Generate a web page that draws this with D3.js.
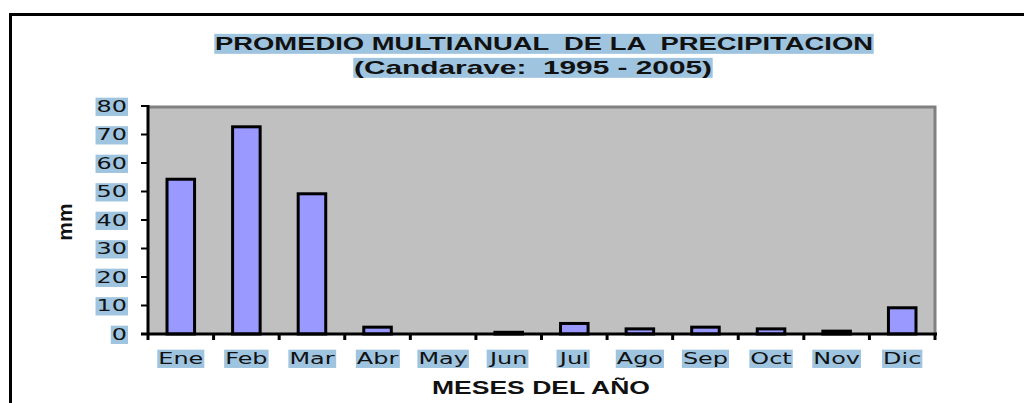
<!DOCTYPE html>
<meta charset="utf-8">
<script src="https://d3js.org/d3.v7.min.js"></script>
<style>
  body { margin: 0; background: #fff; }
</style>
<div id="chart"></div>
<script>
// data
const meses = ["Ene", "Feb", "Mar", "Abr", "May", "Jun", "Jul", "Ago", "Sep", "Oct", "Nov", "Dic"];
const precipitacion = [54.3, 72.7, 49.2, 2.4, 0, 0.6, 3.7, 1.8, 2.4, 1.8, 1.0, 9.2];
const yTicks = [0, 10, 20, 30, 40, 50, 60, 70, 80];

const width = 1024, height = 403;
const plot = {left: 148, right: 935, top: 106, bottom: 334};
const highlight = "#9fc4df";

const svg = d3.select("#chart").append("svg")
  .attr("width", width)
  .attr("height", height);

// outer frame (only top and left visible)
svg.append("path")
  .attr("d", "M1024,14.5 H10.5 V403")
  .attr("fill", "none")
  .attr("stroke", "#000")
  .attr("stroke-width", 3);

const x = d3.scaleBand().domain(meses).range([plot.left, plot.right]);
const y = d3.scaleLinear().domain([0, 80]).range([plot.bottom, plot.top]);

// text with a highlight box behind it, drawn at (px,py) and widened by sx
function labelWithBox(parent, txt, px, py, attrs, sx) {
  const g = parent.append("g")
    .attr("transform", `translate(${px},${py}) scale(${sx || 1},1)`);
  const t = g.append("text").text(txt);
  Object.entries(attrs).forEach(([k, v]) => t.attr(k, v));
  const b = t.node().getBBox();
  g.insert("rect", "text")
    .attr("x", b.x - 0.7).attr("y", b.y + 1)
    .attr("width", b.width + 1.4).attr("height", b.height - 1)
    .attr("fill", highlight);
  return t;
}

// plot background
svg.append("rect")
  .attr("x", plot.left).attr("y", plot.top)
  .attr("width", plot.right - plot.left).attr("height", plot.bottom - plot.top)
  .attr("fill", "#c0c0c0");
svg.append("path")
  .attr("d", `M${plot.left},${plot.top + 1} H${plot.right} V${plot.bottom}`)
  .attr("fill", "none")
  .attr("stroke", "#808080")
  .attr("stroke-width", 3);

// bars
const barW = x.bandwidth() * 0.42;
svg.append("g").selectAll("rect")
  .data(meses)
  .join("rect")
  .attr("x", d => x(d) + (x.bandwidth() - barW) / 2)
  .attr("y", (d, i) => y(precipitacion[i]))
  .attr("width", barW)
  .attr("height", (d, i) => y(0) - y(precipitacion[i]))
  .attr("fill", "#9999ff")
  .attr("stroke", "#000")
  .attr("stroke-width", 3)
  .attr("display", (d, i) => precipitacion[i] > 0 ? null : "none");

// y axis
const yAxis = svg.append("g");
yAxis.append("line")
  .attr("x1", plot.left).attr("x2", plot.left)
  .attr("y1", plot.top - 1).attr("y2", plot.bottom + 1)
  .attr("stroke", "#000").attr("stroke-width", 3);
yTicks.forEach(v => {
  yAxis.append("line")
    .attr("x1", plot.left - 7).attr("x2", plot.left)
    .attr("y1", y(v)).attr("y2", y(v))
    .attr("stroke", "#000").attr("stroke-width", 2);
  labelWithBox(yAxis, v, 127, y(v), {
    dy: "0.36em", "text-anchor": "end",
    "font-family": "DejaVu Sans", "font-size": 16.5, fill: "#111"
  }, 1.45);
});

// x axis
const xAxis = svg.append("g");
xAxis.append("line")
  .attr("x1", plot.left - 7).attr("x2", plot.right + 2)
  .attr("y1", plot.bottom).attr("y2", plot.bottom)
  .attr("stroke", "#000").attr("stroke-width", 3);
meses.concat(["end"]).forEach((m, i) => {
  const px = i < meses.length ? x(m) : plot.right;
  xAxis.append("line")
    .attr("x1", px).attr("x2", px)
    .attr("y1", plot.bottom).attr("y2", plot.bottom + 6)
    .attr("stroke", "#000").attr("stroke-width", 3);
});
meses.forEach(m => {
  labelWithBox(xAxis, m, x(m) + x.bandwidth() / 2, 358, {
    dy: "0.36em", "text-anchor": "middle",
    "font-family": "DejaVu Sans", "font-size": 16.5, fill: "#111"
  }, 1.45);
});

// titles
labelWithBox(svg, "PROMEDIO MULTIANUAL  DE LA  PRECIPITACION", 544, 43, {
  dy: "0.36em", "text-anchor": "middle",
  "font-family": "Liberation Sans", "font-weight": "bold", "font-size": 19,
  textLength: 658, lengthAdjust: "spacingAndGlyphs", "xml:space": "preserve", fill: "#111"
});
labelWithBox(svg, "(Candarave:  1995 - 2005)", 533, 67, {
  dy: "0.36em", "text-anchor": "middle",
  "font-family": "Liberation Sans", "font-weight": "bold", "font-size": 19,
  textLength: 358, lengthAdjust: "spacingAndGlyphs", "xml:space": "preserve", fill: "#111"
});

svg.append("text")
  .attr("x", 541).attr("y", 388).attr("dy", "0.36em")
  .attr("text-anchor", "middle")
  .attr("font-family", "Liberation Sans").attr("font-weight", "bold").attr("font-size", 18)
  .attr("textLength", 218).attr("lengthAdjust", "spacingAndGlyphs")
  .attr("fill", "#111")
  .text("MESES DEL AÑO");

svg.append("text")
  .attr("transform", "translate(64,222) rotate(-90)")
  .attr("dy", "0.36em")
  .attr("text-anchor", "middle")
  .attr("font-family", "Liberation Sans").attr("font-weight", "bold").attr("font-size", 21)
  .attr("fill", "#111")
  .text("mm");
</script>
